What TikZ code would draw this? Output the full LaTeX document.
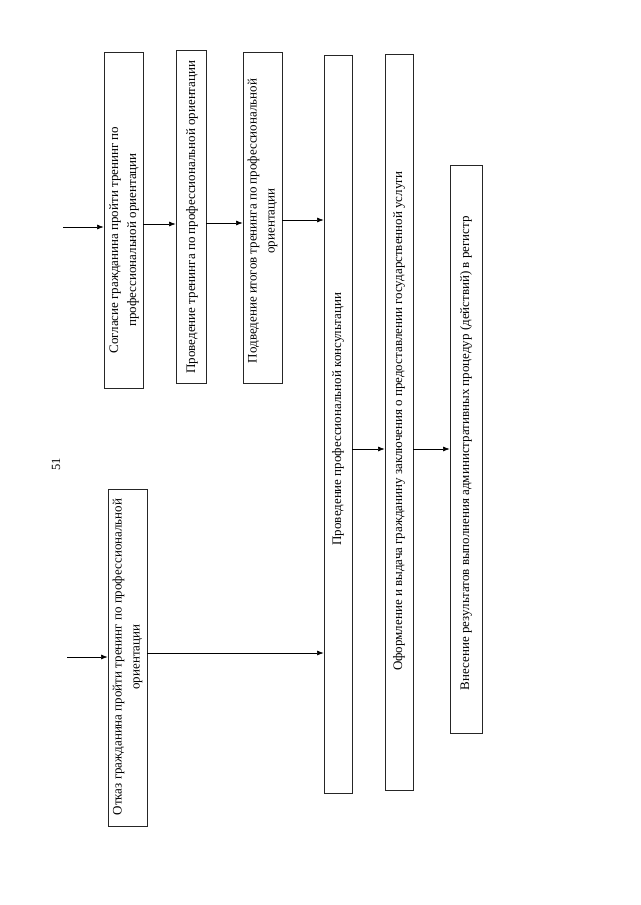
\documentclass[tikz,border=0pt]{standalone}
\usepackage{fontspec}
\setmainfont{Liberation Serif}
\usetikzlibrary{arrows.meta}
\begin{document}
\begin{tikzpicture}[x=1pt,y=-1pt,
  box/.style={draw=black!85, line width=0.9pt, inner sep=0pt},
  lbl/.style={rotate=90, align=center, font=\fontsize{13}{18}\selectfont, inner sep=0pt},
  arr/.style={line width=0.6pt, -{Latex[length=6.5pt,width=5pt]}}]
\useasboundingbox (0,0) rectangle (640,905);
\fill[white] (0,0) rectangle (640,905);
% boxes
\node[box, minimum width=39pt, minimum height=336pt] (A) at (123.5,220) {};
\node[box, minimum width=30pt, minimum height=333pt] (B) at (191,216.5) {};
\node[box, minimum width=39pt, minimum height=331pt] (C) at (262.5,217.5) {};
\node[box, minimum width=28pt, minimum height=738pt] (D) at (338,424) {};
\node[box, minimum width=28pt, minimum height=736pt] (E) at (399,422) {};
\node[box, minimum width=32pt, minimum height=568pt] (F) at (466,449) {};
\node[box, minimum width=39pt, minimum height=337pt] (G) at (127.5,657.5) {};
% texts
\node[lbl] (tA) at (124,240) {Согласие гражданина пройти тренинг по\\профессиональной ориентации};
\node[lbl] (tB) at (192,217) {Проведение тренинга по профессиональной ориентации};
\node[lbl] (tC) at (262.5,221) {Подведение итогов тренинга по профессиональной\\ориентации};
\node[lbl] (tD) at (338,419) {Проведение профессиональной консультации};
\node[lbl] (tE) at (399,421) {Оформление и выдача гражданину заключения о предоставлении государственной услуги};
\node[lbl] (tF) at (466,453) {Внесение результатов выполнения административных процедур (действий) в регистр};
\node[lbl] (tG) at (127.5,657) {Отказ гражданина пройти тренинг по профессиональной\\ориентации};
\node[rotate=90, font=\fontsize{12.5}{14}\selectfont, inner sep=0pt] (pg) at (56,464) {51};
% connectors
\coordinate (inA) at (63,227);
\coordinate (inG) at (67,657);
\draw[arr] (inA) -- (A.west |- inA);
\draw[arr] (A.east |- 0,224) -- (B.west |- 0,224);
\draw[arr] (B.east |- 0,223) -- (C.west |- 0,223);
\draw[arr] (C.east |- 0,220) -- (D.west |- 0,220);
\draw[arr] (inG) -- (G.west |- inG);
\draw[arr] (G.east |- 0,653) -- (D.west |- 0,653);
\draw[arr] (D.east |- 0,449) -- (E.west |- 0,449);
\draw[arr] (E.east |- 0,449) -- (F.west |- 0,449);
\end{tikzpicture}
\end{document}
